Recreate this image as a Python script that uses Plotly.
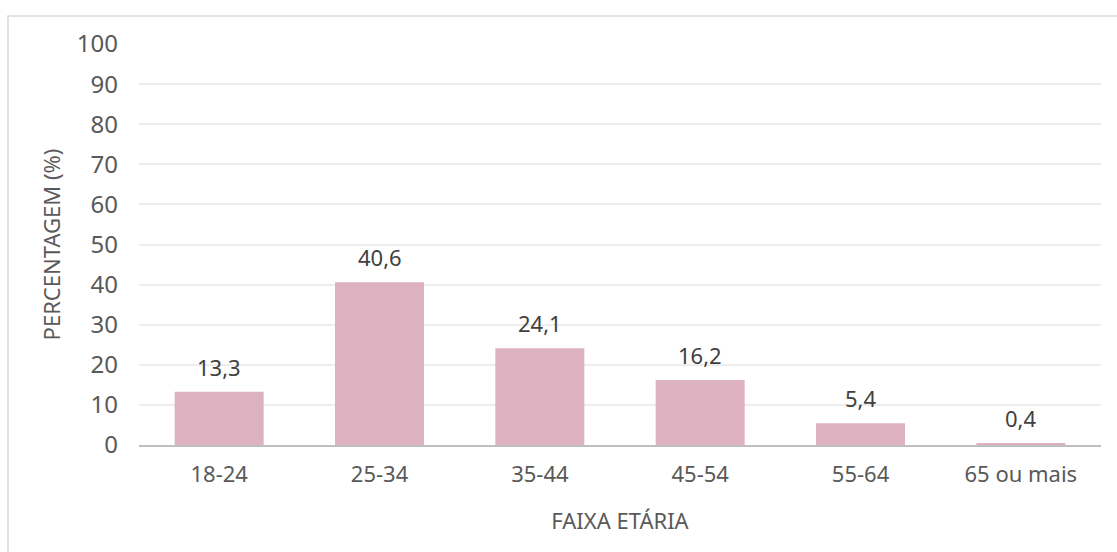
import plotly.graph_objects as go

categorias = ["18-24", "25-34", "35-44", "45-54", "55-64", "65 ou mais"]
percentagens = [13.3, 40.6, 24.1, 16.2, 5.4, 0.4]
rotulos = [f"{v:.1f}".replace(".", ",") for v in percentagens]
ticks_y = [0, 10, 20, 30, 40, 50, 60, 70, 80, 90, 100]

W, H = 1117, 552
ML, MR, MT, MB = 139, 16, 44, 107
pw, ph = W - ML - MR, H - MT - MB

def px_x(x):
    return (x - ML) / pw

def px_y(y):
    return (H - MB - y) / ph

fonte = "Noto Sans, Open Sans, sans-serif"
cinza = "#595959"

fig = go.Figure(go.Bar(
    x=categorias,
    y=percentagens,
    marker=dict(color="#DDB1BF", line=dict(width=0)),
    hoverinfo="x+y",
))

# value labels placed above each bar
for cat, val, txt in zip(categorias, percentagens, rotulos):
    fig.add_annotation(
        x=cat, y=val, text=txt, showarrow=False,
        yanchor="middle", yshift=25,
        font=dict(family=fonte, size=22, color="#404040"),
    )

fig.update_layout(
    width=W, height=H,
    margin=dict(l=ML, r=MR, t=MT, b=MB, pad=0),
    paper_bgcolor="white",
    plot_bgcolor="white",
    bargap=0.445,
    showlegend=False,
    font=dict(family=fonte, color=cinza),
    xaxis=dict(
        showline=True, linecolor="#BFBFBF", linewidth=2,
        ticks="", tickfont=dict(size=22, color=cinza),
        ticklabelstandoff=9,
        title=dict(text="FAIXA ETÁRIA", font=dict(size=22, color=cinza), standoff=26),
    ),
    yaxis=dict(
        range=[0, 100], tickvals=ticks_y,
        showgrid=True, gridcolor="#EDEDED", gridwidth=1.5,
        zeroline=False, showline=False, ticks="",
        tickfont=dict(size=24, color=cinza),
        ticklabelstandoff=20,
        title=dict(text="PERCENTAGEM (%)", font=dict(size=22, color=cinza), standoff=10),
    ),
    shapes=[dict(
        type="rect", xref="paper", yref="paper",
        x0=px_x(8), x1=px_x(1130), y0=px_y(570), y1=px_y(16),
        line=dict(color="#D9D9D9", width=1.5), fillcolor="rgba(0,0,0,0)",
        layer="below",
    )],
)

fig.write_html("out.html")
